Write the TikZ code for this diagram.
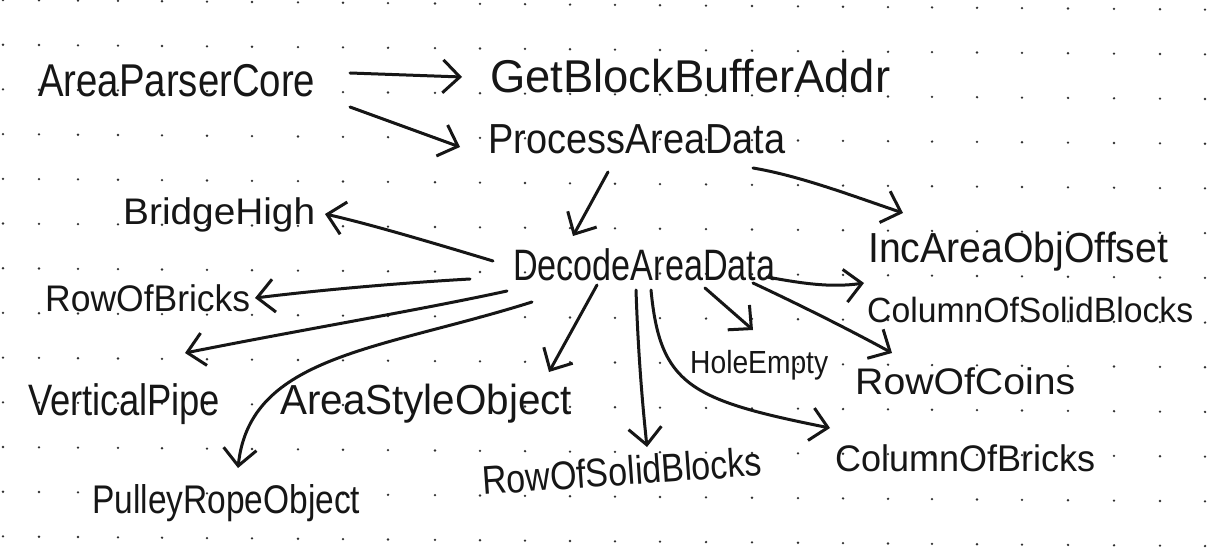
\documentclass[tikz,border=0pt]{standalone}
\usepackage{fontspec}
\setmainfont{Liberation Sans}
\usepackage{graphicx}
\usetikzlibrary{arrows.meta}
\definecolor{ink}{HTML}{161616}
\definecolor{dotc}{HTML}{303030}
\newcommand\fw[2]{\resizebox{#1pt}{\height}{#2}}
\newcommand\fsz[1]{\fontsize{#1}{#1}\selectfont}
\tikzset{
  lab/.style={anchor=base west, inner sep=0pt, text=ink},
  arr/.style={draw=ink, line width=3pt, line cap=round, line join=round,
    -{Straight Barb[length=17pt,width=33pt,line width=3pt]}},
  griddot/.style={fill=dotc},
}
\begin{document}
\begin{tikzpicture}[x=1pt,y=-1pt]
\fill[white] (0,0) rectangle (1207,553);
\useasboundingbox (0,0) rectangle (1207,553);
% dotted paper
\foreach \x in {3,39,78,118,162,207,252,298,343,388,435,480,525,570,615,660,706,752,798,843,888,932,977,1022,1068,1114,1160,1205}{
  \foreach \j in {0,...,12}{
    \fill[griddot] (\x,{44.7*\j+0.008*\x}) circle (1.3pt);
  }
}
% labels
\node[lab,font=\fsz{46}] (apc)  at (38,97)   {\fw{277}{AreaParserCore}};
\node[lab,font=\fsz{46}] (gbba) at (490,93)  {\fw{400}{GetBlockBufferAddr}};
\node[lab,font=\fsz{42}] (pad)  at (488,154) {\fw{297}{ProcessAreaData}};
\node[lab,font=\fsz{44}] (dad)  at (513,281) {\fw{262}{DecodeAreaData}};
\node[lab,font=\fsz{37}] (bh)   at (123,225) {\fw{192}{BridgeHigh}};
\node[lab,font=\fsz{42}] (iaoo) at (868,263) {\fw{300}{IncAreaObjOffset}};
\node[lab,font=\fsz{35}] (csb)  at (867,323) {\fw{326}{ColumnOfSolidBlocks}};
\node[lab,font=\fsz{37}] (roc)  at (855,394) {\fw{220}{RowOfCoins}};
\node[lab,font=\fsz{37}] (cob)  at (835,471) {\fw{260}{ColumnOfBricks}};
\node[lab,font=\fsz{32}] (he)   at (690,373) {\fw{138}{HoleEmpty}};
\node[lab,font=\fsz{40},rotate=4] (rosb) at (483,495) {\fw{280}{RowOfSolidBlocks}};
\node[lab,font=\fsz{42}] (aso)  at (280,414) {\fw{292}{AreaStyleObject}};
\node[lab,font=\fsz{40}] (pro)  at (92,513)  {\fw{268}{PulleyRopeObject}};
\node[lab,font=\fsz{44}] (vp)   at (28,415)  {\fw{192}{VerticalPipe}};
\node[lab,font=\fsz{37}] (rob)  at (45,311)  {\fw{205}{RowOfBricks}};
% connector end points
\coordinate (apc-o1) at (350,73);   \coordinate (gbba-i) at (462,77);
\coordinate (apc-o2) at (350,107);  \coordinate (pad-i)  at (460,147);
\coordinate (pad-o1) at (608,172);  \coordinate (dad-i)  at (573,236);
\coordinate (pad-o2) at (753,168);  \coordinate (iaoo-i) at (903,213);
\coordinate (dad-o1) at (493,261);  \coordinate (bh-i)   at (325,214);
\coordinate (dad-o2) at (470,279);  \coordinate (rob-i)  at (255,298);
\coordinate (dad-o3) at (507,291);  \coordinate (vp-i)   at (185,353);
\coordinate (dad-o4) at (532,302);  \coordinate (pro-i)  at (238,468);
\coordinate (dad-o5) at (597,285);  \coordinate (aso-i)  at (549,372);
\coordinate (dad-o6) at (636,290);  \coordinate (rosb-i) at (647,447);
\coordinate (dad-o7) at (651,290);  \coordinate (cob-i)  at (830,428);
\coordinate (dad-o8) at (705,288);  \coordinate (he-i)   at (753,330);
\coordinate (dad-o9) at (753,283);  \coordinate (roc-i)  at (892,353);
\coordinate (dad-o10) at (767,277); \coordinate (csb-i)  at (864,283);
% connectors
\draw[arr] (apc-o1) -- (gbba-i);
\draw[arr] (apc-o2) -- (pad-i);
\draw[arr] (pad-o1) -- (dad-i);
\draw[arr] (pad-o2) .. controls (800,176) and (850,195) .. (iaoo-i);
\draw[arr] (dad-o1) .. controls (440,245) and (370,224) .. (bh-i);
\draw[arr] (dad-o2) .. controls (400,283) and (320,290) .. (rob-i);
\draw[arr] (dad-o3) .. controls (420,310) and (300,330) .. (vp-i);
\draw[arr] (dad-o4) .. controls (380,350) and (250,355) .. (pro-i);
\draw[arr] (dad-o5) -- (aso-i);
\draw[arr] (dad-o6) .. controls (638,350) and (642,400) .. (rosb-i);
\draw[arr] (dad-o7) .. controls (660,385) and (690,400) .. (cob-i);
\draw[arr] (dad-o8) -- (he-i);
\draw[arr] (dad-o9) .. controls (800,305) and (850,330) .. (roc-i);
\draw[arr] (dad-o10) .. controls (800,283) and (830,288) .. (csb-i);
\end{tikzpicture}
\end{document}
